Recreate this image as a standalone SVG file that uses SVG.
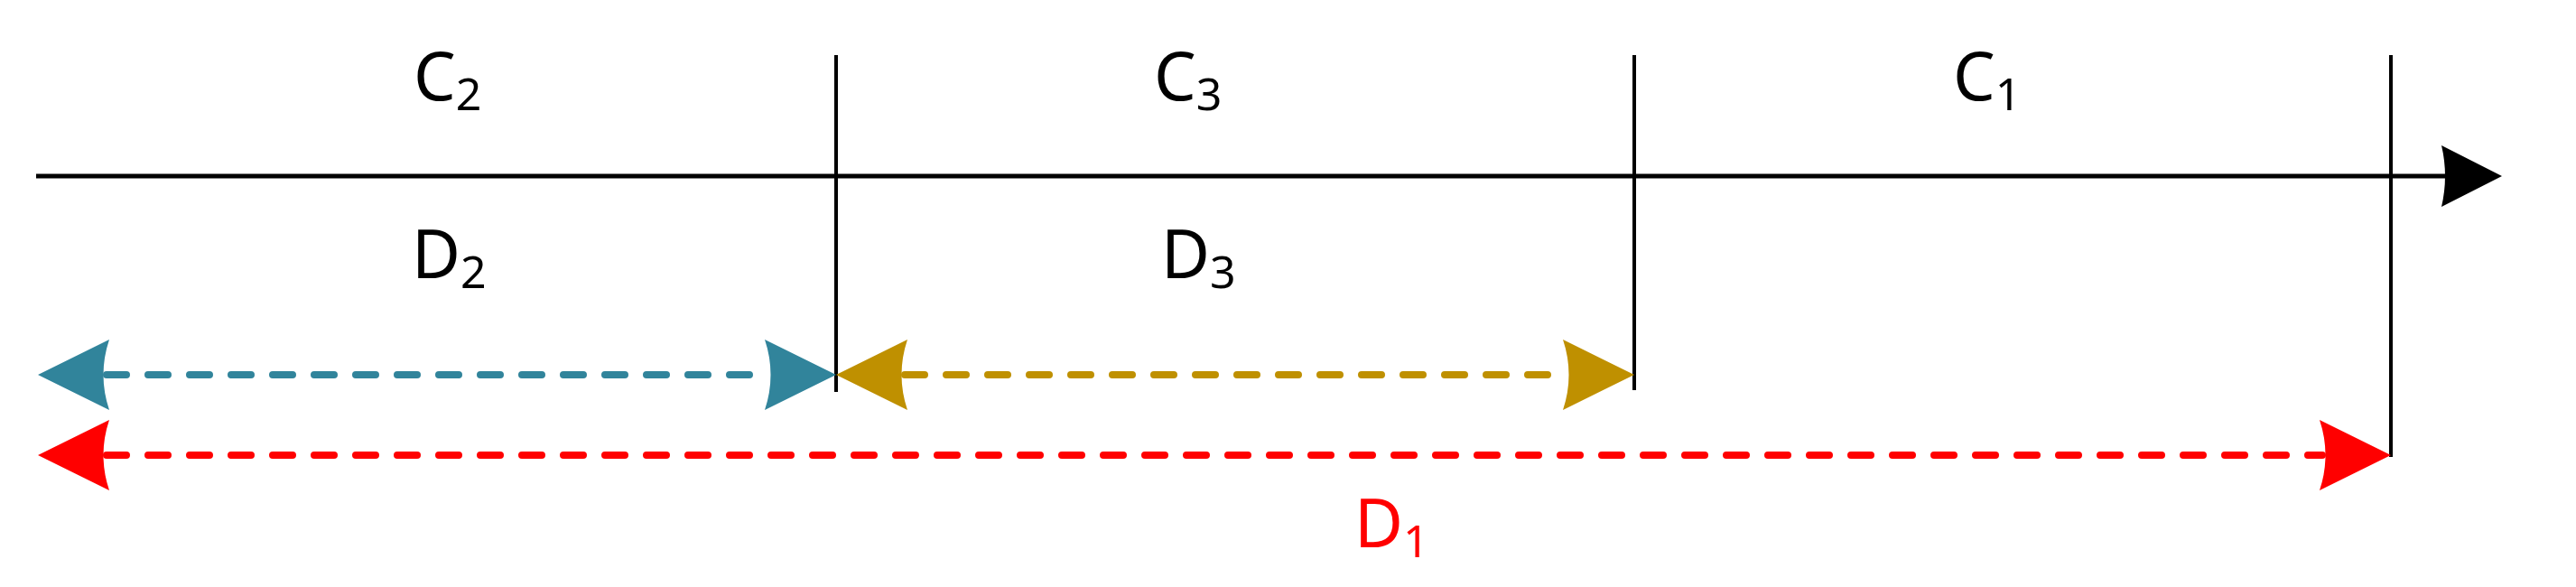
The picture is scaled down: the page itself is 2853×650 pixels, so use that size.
<svg xmlns="http://www.w3.org/2000/svg" width="2853" height="650" viewBox="0 0 2853 650">
<style>
.t{font-family:"Noto Sans","DejaVu Sans",sans-serif;font-size:74px}
.s{font-size:50px}
.v{stroke:#000;stroke-width:4}
.d{fill:none;stroke-width:8;stroke-linecap:round;stroke-dasharray:22 24}
</style>
<defs>
<path id="ar" d="M0,0 L79,-39 Q66,0 79,39 Z"/>
</defs>
<rect width="2853" height="650" fill="#fff"/>
<g id="connectors">
<line x1="40" y1="195" x2="2720" y2="195" stroke="#000" stroke-width="5"/>
<path d="M2771,195 L2704,161 Q2712,195 2704,229 Z" fill="#000"/>
<line class="v" x1="926" y1="61" x2="926" y2="434"/>
<line class="v" x1="1810" y1="61" x2="1810" y2="432"/>
<line class="v" x1="2648" y1="61" x2="2648" y2="506"/>
<line class="d" stroke="#31849B" x1="118" y1="415" x2="850" y2="415"/>
<use href="#ar" transform="translate(42,415)" fill="#31849B"/>
<use href="#ar" transform="translate(926,415) scale(-1,1)" fill="#31849B"/>
<line class="d" stroke="#BF9000" x1="1002" y1="415" x2="1734" y2="415"/>
<use href="#ar" transform="translate(926,415)" fill="#BF9000"/>
<use href="#ar" transform="translate(1810,415) scale(-1,1)" fill="#BF9000"/>
<line class="d" stroke="#FF0000" x1="118" y1="504" x2="2572" y2="504"/>
<use href="#ar" transform="translate(42,504)" fill="#FF0000"/>
<use href="#ar" transform="translate(2648,504) scale(-1,1)" fill="#FF0000"/>
</g>
<g id="labels">
<text class="t" x="458" y="111">C<tspan class="s" dy="11">2</tspan></text>
<text class="t" x="1278" y="111">C<tspan class="s" dy="11">3</tspan></text>
<text class="t" x="2163" y="111">C<tspan class="s" dy="11">1</tspan></text>
<text class="t" x="456" y="308">D<tspan class="s" dy="11">2</tspan></text>
<text class="t" x="1286" y="308">D<tspan class="s" dy="11">3</tspan></text>
<text class="t" x="1500" y="606" fill="#FF0000">D<tspan class="s" dy="11">1</tspan></text>
</g>
</svg>
